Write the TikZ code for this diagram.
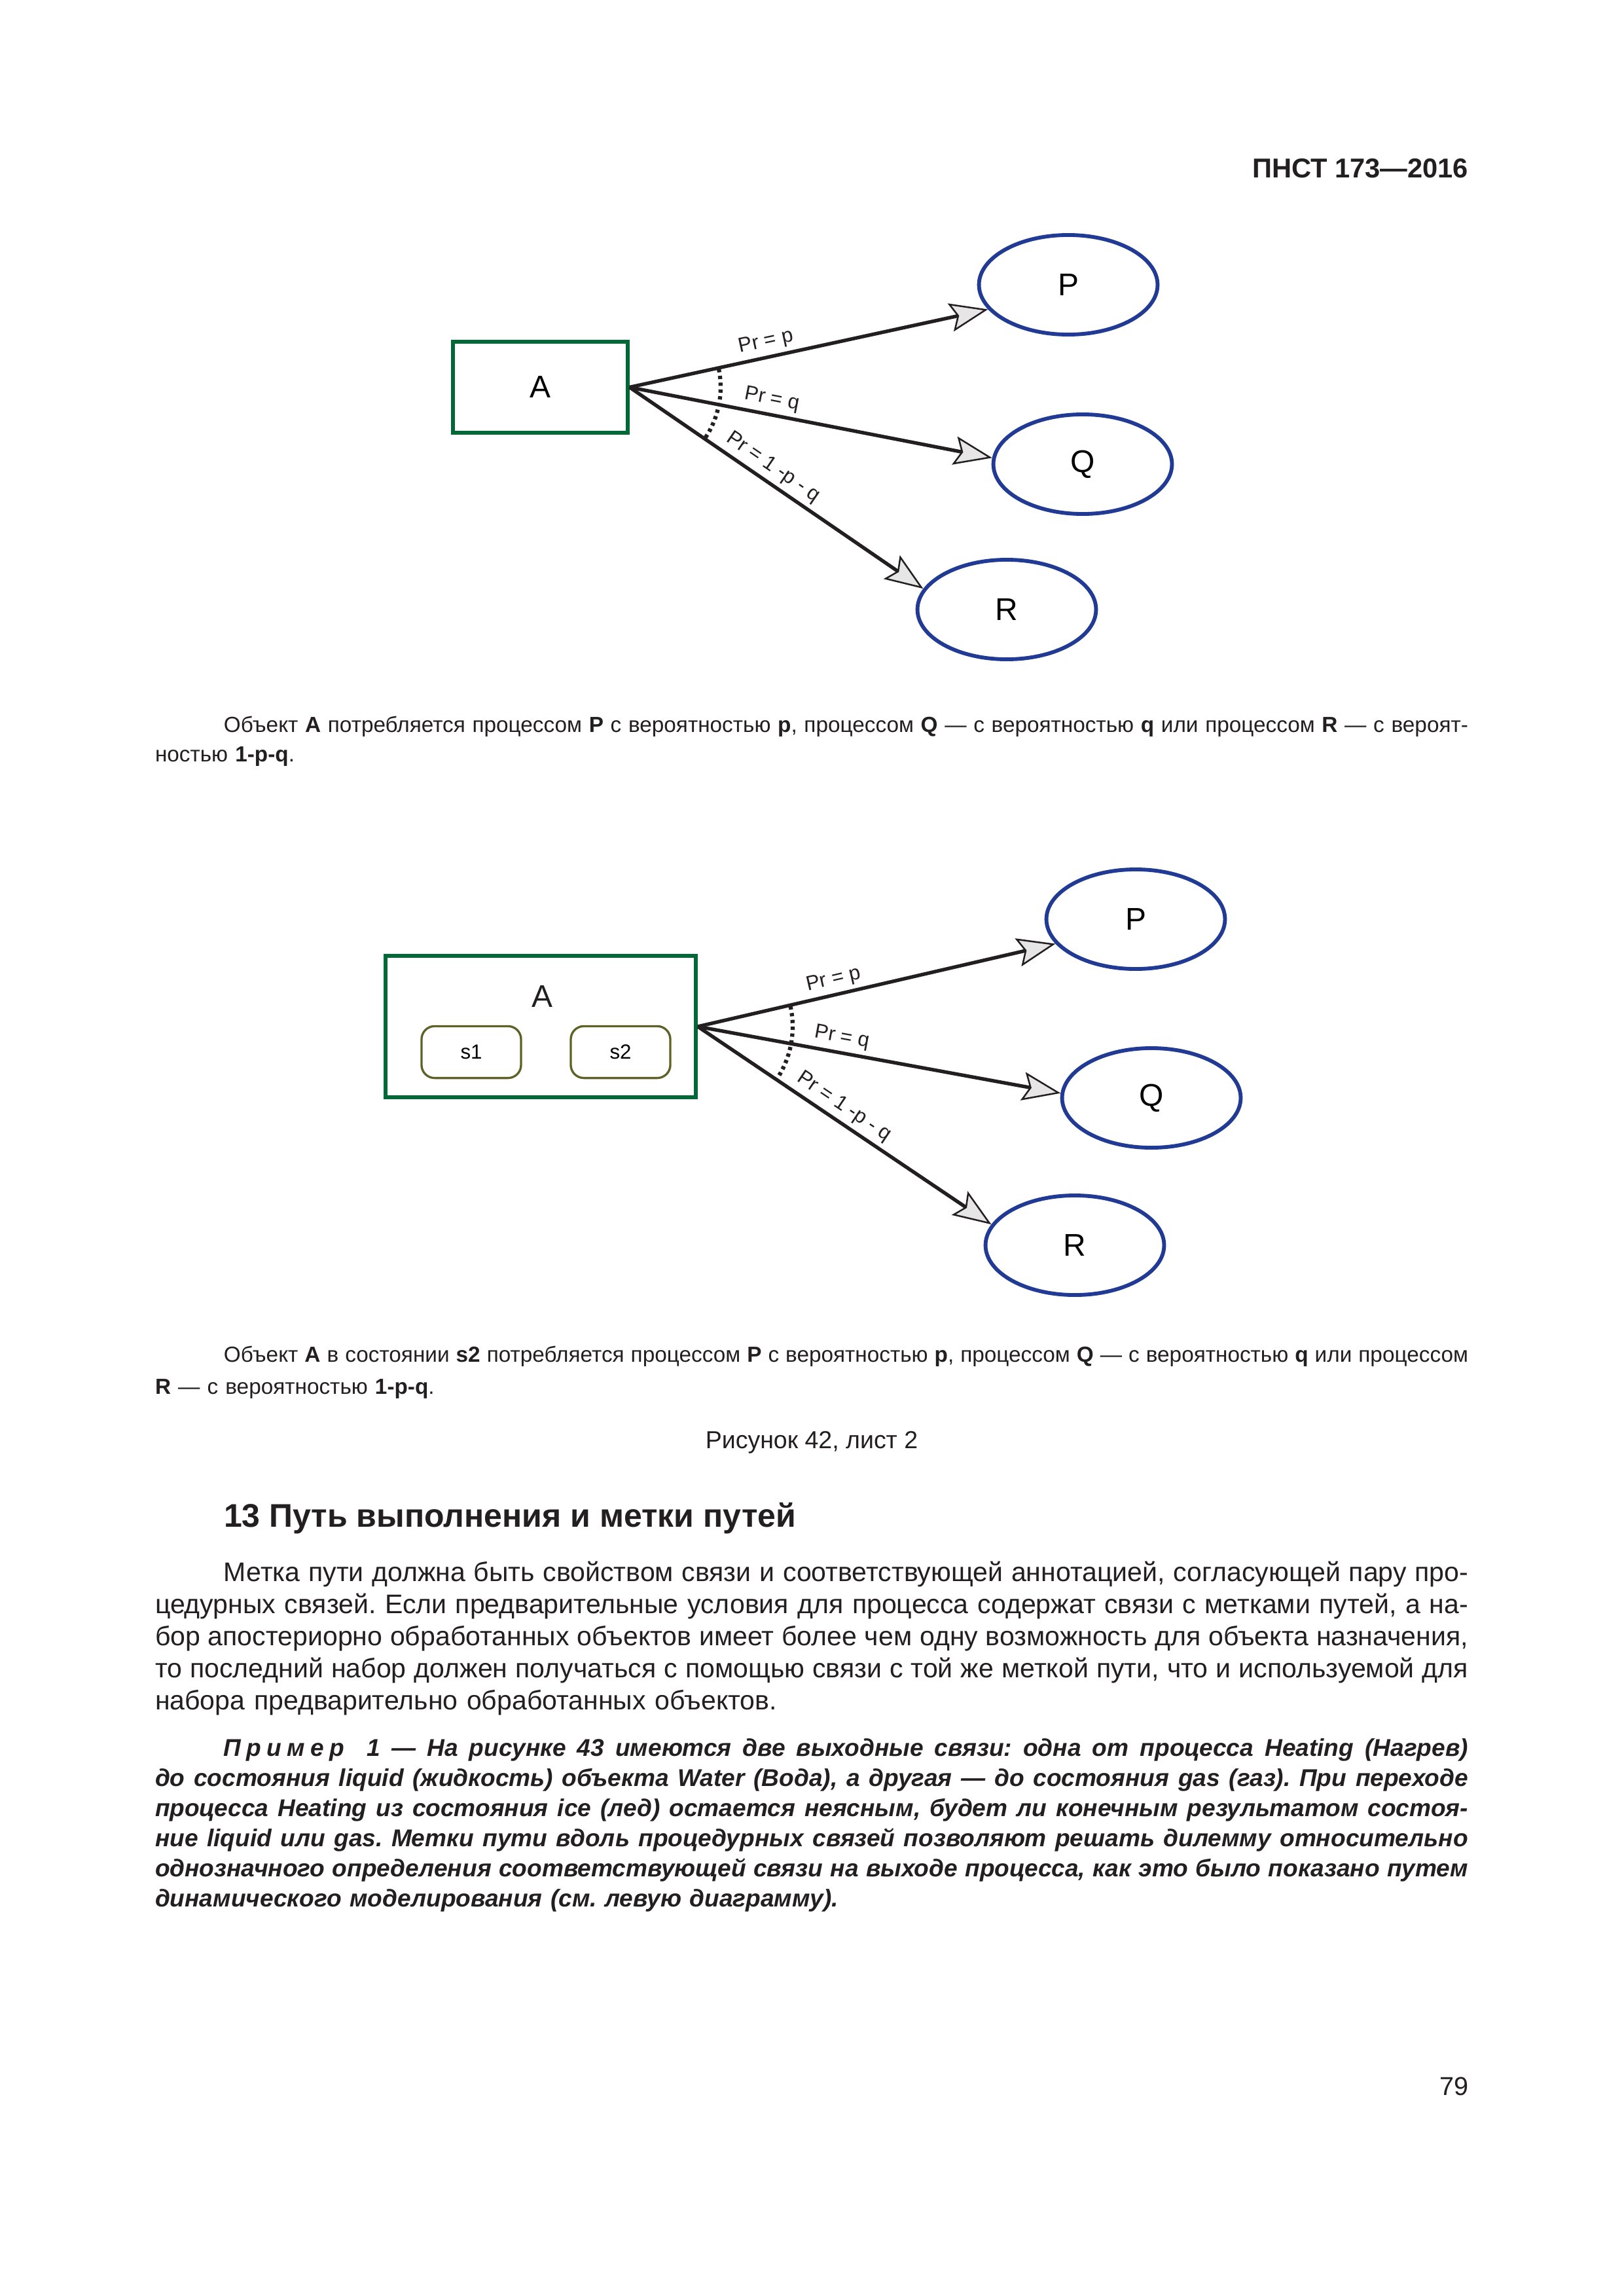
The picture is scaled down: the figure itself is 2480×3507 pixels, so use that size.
\documentclass[tikz,border=0pt]{standalone}
\usepackage{fontspec}
\setmainfont{Liberation Sans}
\usetikzlibrary{shapes.geometric,arrows.meta,calc}
\definecolor{objgreen}{RGB}{0,104,55}
\definecolor{procblue}{RGB}{33,58,148}
\definecolor{stateolive}{RGB}{94,98,38}
\definecolor{ink}{RGB}{35,31,32}
\definecolor{tipfill}{RGB}{230,230,230}
\frenchspacing
\newcommand\jl[1]{{\spaceskip=0.278em plus 1fil minus 0.1em\relax\makebox[\linewidth][s]{#1}}}
\newcommand\jli[1]{\hspace*{25.2pt}{\spaceskip=0.278em plus 1fil minus 0.1em\relax\makebox[\dimexpr\linewidth-25.2pt\relax][s]{#1}}}
\tikzset{
  obj/.style={draw=objgreen, line width=1.4pt, rectangle, inner sep=0pt, font=\fontsize{11.5}{13}\selectfont},
  proc/.style={draw=procblue, line width=1.4pt, ellipse, minimum width=65.5pt, minimum height=36.5pt, inner sep=0pt, font=\fontsize{11.5}{13}\selectfont},
  stbox/.style={draw=stateolive, line width=0.8pt, rounded corners=4.8pt, minimum width=36.5pt, minimum height=19pt, inner sep=0pt, font=\fontsize{7.5}{9}\selectfont},
  conn/.style={draw=ink, line width=1.3pt, -{Stealth[length=14pt, width=10.5pt, inset=2.5pt, fill=tipfill, line width=0.6pt]}},
  lbl/.style={font=\fontsize{7.5}{9}\selectfont, text=ink, sloped, above, inner sep=1.5pt},
  arcdots/.style={draw=ink, line width=1.5pt, dash pattern=on 1.2pt off 1.3pt},
  txt/.style={text=ink, inner sep=0pt, outer sep=0pt},
}
\begin{document}
\begin{tikzpicture}[x=0.24003pt, y=-0.24003pt]
\useasboundingbox (0,0) rectangle (2480,3507);
\fill[white] (0,0) rectangle (2480,3507);

% header
\node[txt, anchor=base east, font=\fontsize{10}{12}\selectfont\bfseries] (hdr) at (2243,271) {ПНСТ 173—2016};

% ---------- diagram 1 ----------
\node[obj, minimum width=64pt, minimum height=33.5pt] (A1) at (825.5,591.5) {A};
\node[proc] (P1) at (1632,435) {P};
\node[proc] (Q1) at (1654,709) {Q};
\node[proc] (R1) at (1538,931) {R};
\draw[conn] (A1.east) -- node[lbl, pos=0.39] {Pr = p} (P1.197);
\draw[conn] (A1.east) -- node[lbl, pos=0.385] {Pr = q} (Q1.176);
\draw[conn] (A1.east) -- node[lbl, pos=0.46] {Pr = 1 -p - q} (R1.166);
\draw[arcdots] ($(A1.east)+(11.5:33.4pt)$) arc[start angle=11.5, end angle=-33.5, radius=33.4pt];

\node[txt, anchor=base west, text width=481.5pt, font=\fontsize{8}{10.8}\selectfont] (cap1) at (237,1118) {%
\jli{Объект \textbf{A} потребляется процессом \textbf{P} с вероятностью \textbf{p}, процессом \textbf{Q} — с вероятностью \textbf{q} или процессом \textbf{R} — с вероят-}\\
ностью \textbf{1-p-q}.};

% ---------- diagram 2 ----------
\node[obj, minimum width=113.8pt, minimum height=52pt] (A2) at (826,1568) {};
\node[txt, font=\fontsize{11.5}{13}\selectfont] (A2lbl) at (828,1522) {A};
\node[stbox] (s1) at (720,1607) {s1};
\node[stbox] (s2) at (948,1607) {s2};
\node[proc] (P2) at (1735,1404) {P};
\node[proc] (Q2) at (1759,1677) {Q};
\node[proc] (R2) at (1642,1902) {R};
\draw[conn] (A2.east) -- node[lbl, pos=0.39] {Pr = p} (P2.197);
\draw[conn] (A2.east) -- node[lbl, pos=0.39] {Pr = q} (Q2.177);
\draw[conn] (A2.east) -- node[lbl, pos=0.47] {Pr = 1 -p - q} (R2.166);
\draw[arcdots] ($(A2.east)+(12.3:34.8pt)$) arc[start angle=12.3, end angle=-33.2, radius=34.8pt];

\node[txt, anchor=base west, text width=481.5pt, font=\fontsize{8}{11.8}\selectfont] (cap2) at (237,2080) {%
\jli{Объект \textbf{A} в состоянии \textbf{s2} потребляется процессом \textbf{P} с вероятностью \textbf{p}, процессом \textbf{Q} — с вероятностью \textbf{q} или процессом}\\
\textbf{R} — с вероятностью \textbf{1-p-q}.};

\node[txt, anchor=base, font=\fontsize{9}{11}\selectfont] (figcap) at (1240,2212) {Рисунок 42, лист 2};

% ---------- section ----------
\node[txt, anchor=base west, font=\fontsize{12}{14}\selectfont\bfseries] (sec) at (342,2332) {13 Путь выполнения и метки путей};

\node[txt, anchor=base west, text width=481.5pt, font=\fontsize{9.85}{11.8}\selectfont] (body) at (237,2415) {%
\jli{Метка пути должна быть свойством связи и соответствующей аннотацией, согласующей пару про-}\\
\jl{цедурных связей. Если предварительные условия для процесса содержат связи с метками путей, а на-}\\
\jl{бор апостериорно обработанных объектов имеет более чем одну возможность для объекта назначения,}\\
\jl{то последний набор должен получаться с помощью связи с той же меткой пути, что и используемой для}\\
набора предварительно обработанных объектов.};

\node[txt, anchor=base west, text width=481.5pt, font=\fontsize{8.9}{11.04}\selectfont\bfseries\itshape] (example) at (237,2682) {%
\jli{П\kern2pt р\kern2pt и\kern2pt м\kern2pt е\kern2pt р\ \ 1 — На рисунке 43 имеются две выходные связи: одна от процесса Heating (Нагрев)}\\
\jl{до состояния liquid (жидкость) объекта Water (Вода), а другая — до состояния gas (газ). При переходе}\\
\jl{процесса Heating из состояния ice (лед) остается неясным, будет ли конечным результатом состоя-}\\
\jl{ние liquid или gas. Метки пути вдоль процедурных связей позволяют решать дилемму относительно}\\
\jl{однозначного определения соответствующей связи на выходе процесса, как это было показано путем}\\
динамического моделирования (см. левую диаграмму).};

\node[txt, anchor=base east, font=\fontsize{9.5}{11}\selectfont] (pgno) at (2243,3200) {79};
\end{tikzpicture}
\end{document}
